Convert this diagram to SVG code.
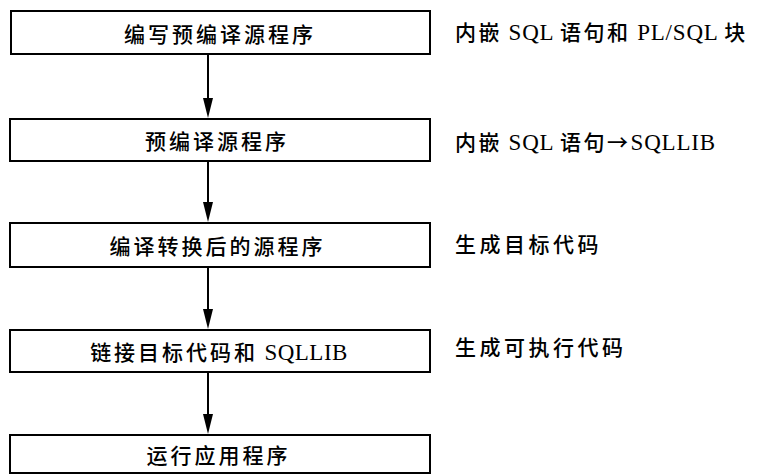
<svg xmlns="http://www.w3.org/2000/svg" width="757" height="476" viewBox="0 0 757 476">
<style>
.box{fill:#fff;stroke:#000;stroke-width:2}
.t{font-family:"Noto Sans CJK SC","Noto Sans",sans-serif;font-size:21px;fill:#000;font-weight:500}
.bt{text-anchor:middle;letter-spacing:3px}
.lt{letter-spacing:2.5px}
.lt2{letter-spacing:3.5px}
.edge{stroke:#000;stroke-width:2;fill:none}
.head{fill:#000}
</style>
<rect width="757" height="476" fill="#fff"/>
<g id="connectors">
<line class="edge" x1="208" y1="54" x2="208" y2="100"/>
<path class="head" d="M203,98 L208,118 L213,98 Z"/>
<line class="edge" x1="208" y1="161" x2="208" y2="204"/>
<path class="head" d="M203,202 L208,222 L213,202 Z"/>
<line class="edge" x1="208" y1="267" x2="208" y2="311"/>
<path class="head" d="M203,309 L208,329 L213,309 Z"/>
<line class="edge" x1="208" y1="372" x2="208" y2="416"/>
<path class="head" d="M203,414 L208,434 L213,414 Z"/>
</g>
<g id="n1">
<rect class="box" x="11" y="11" width="419" height="43"/>
<text class="t bt" x="220" y="42">编写预编译源程序</text>
</g>
<g id="n2">
<rect class="box" x="10" y="119" width="420" height="42"/>
<text class="t bt" x="217" y="149">预编译源程序</text>
</g>
<g id="n3">
<rect class="box" x="10" y="223" width="420" height="44"/>
<text class="t bt" x="217.5" y="254">编译转换后的源程序</text>
</g>
<g id="n4">
<rect class="box" x="10" y="330" width="420" height="42"/>
<text class="t bt" x="219" y="360">链接目标代码和<tspan style="font-family:'Liberation Serif',serif;font-size:23px;letter-spacing:0.5px"> SQLLIB</tspan></text>
</g>
<g id="n5">
<rect class="box" x="10" y="435" width="420" height="38"/>
<text class="t bt" x="218.5" y="463">运行应用程序</text>
</g>
<g id="labels">
<text class="t lt" x="455" y="40">内嵌<tspan style="font-family:'Liberation Serif',serif;font-size:23px;letter-spacing:0.8px"> SQL </tspan>语句和<tspan style="font-family:'Liberation Serif',serif;font-size:23px;letter-spacing:0.8px"> PL/SQL </tspan>块</text>
<text class="t lt" x="455" y="150">内嵌<tspan style="font-family:'Liberation Serif',serif;font-size:23px;letter-spacing:0.8px"> SQL </tspan>语句→<tspan style="font-family:'Liberation Serif',serif;font-size:23px;letter-spacing:0.8px">SQLLIB</tspan></text>
<text class="t lt2" x="455" y="252">生成目标代码</text>
<text class="t lt2" x="455" y="355">生成可执行代码</text>
</g>
</svg>
